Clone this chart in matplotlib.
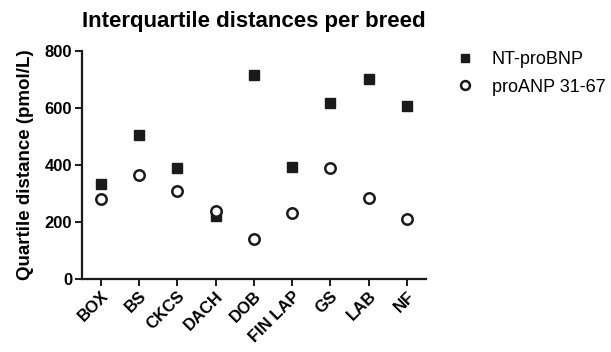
import numpy as np
import matplotlib
matplotlib.use('Agg')
import matplotlib.pyplot as plt

plt.rcParams['font.family'] = ['Liberation Sans', 'DejaVu Sans']

# data
breeds = ['BOX', 'BS', 'CKCS', 'DACH', 'DOB', 'FIN LAP', 'GS', 'LAB', 'NF']
nt_probnp = [333, 504, 389, 220, 714, 393, 617, 700, 606]
proanp = [279, 363, 309, 237, 140, 229, 387, 282, 208]
yticks = [0, 200, 400, 600, 800]

fig = plt.figure(figsize=(6.11, 3.52), dpi=100)
ax = fig.add_axes([0.134, 0.208, 0.563, 0.648])

x = np.arange(len(breeds))
ax.plot(x, nt_probnp, linestyle='none', marker='s', markersize=7.5,
        color='#1a1a1a', label='NT-proBNP', zorder=3)
ax.plot(x, proanp, linestyle='none', marker='o', markersize=7.5,
        markerfacecolor='white', markeredgecolor='#1a1a1a', markeredgewidth=1.8,
        label='proANP 31-67', zorder=4)

ax.set_xlim(-0.5, len(breeds) - 0.5)
ax.set_ylim(0, 800)
ax.set_yticks(yticks)
ax.set_yticklabels([str(v) for v in yticks], fontweight='bold', fontsize=12)
ax.set_xticks(x)
ax.set_xticklabels(breeds, rotation=45, ha='right', rotation_mode='anchor',
                   fontweight='bold', fontsize=12)

for side in ['top', 'right']:
    ax.spines[side].set_visible(False)
for side in ['left', 'bottom']:
    ax.spines[side].set_linewidth(1.6)
    ax.spines[side].set_color('#1a1a1a')
ax.tick_params(axis='both', direction='out', length=5, width=1.4, color='#1a1a1a', pad=2)

ax.set_ylabel('Quartile distance (pmol/L)', fontweight='bold', fontsize=13.5, labelpad=8)
ax.set_title('Interquartile distances per breed', fontweight='bold', fontsize=16, pad=17)

leg = ax.legend(loc='upper left', bbox_to_anchor=(1.045, 1.07), frameon=False,
                fontsize=13, handlelength=0.8, handletextpad=1.1, labelspacing=0.6,
                markerscale=0.85)

fig.savefig('out.png', dpi=100)
